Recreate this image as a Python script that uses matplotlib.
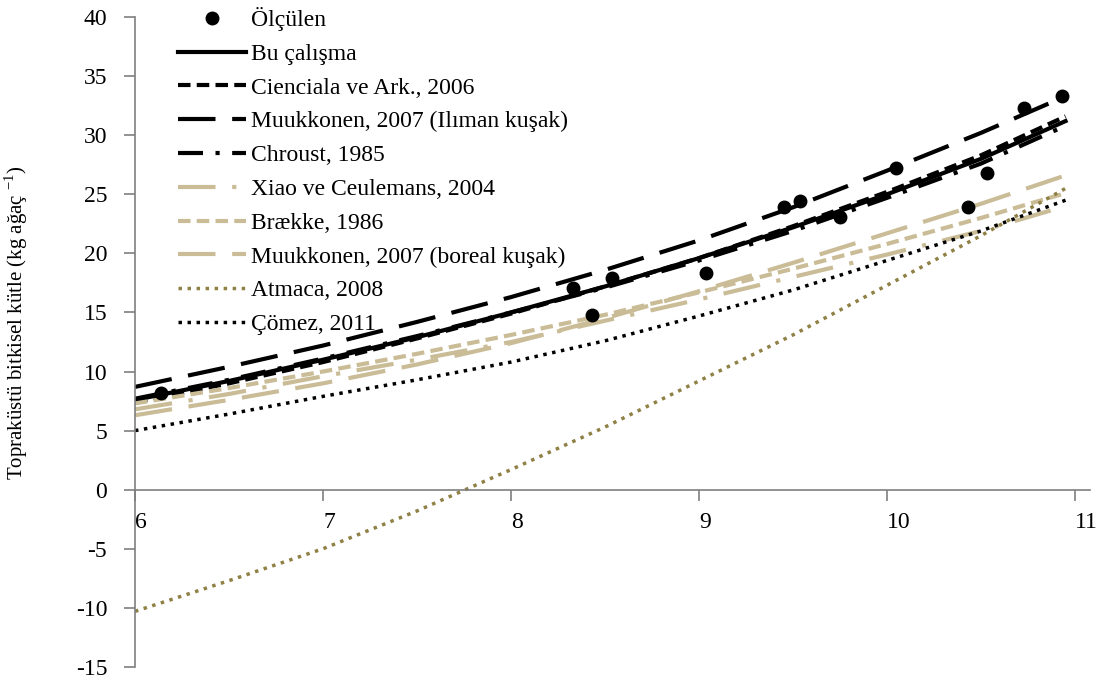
import numpy as np
import matplotlib.pyplot as plt

plt.rcParams['font.family'] = ['Liberation Serif', 'DejaVu Serif']
plt.rcParams['mathtext.fontset'] = 'custom'
plt.rcParams['mathtext.rm'] = 'Liberation Serif'
plt.rcParams['axes.unicode_minus'] = False

# x değerleri
x = [6, 6.5, 7, 7.5, 8, 8.5, 9, 9.5, 10, 10.5, 10.95]

# ölçülen noktalar
olc_x = [6.14, 8.33, 8.43, 8.54, 9.04, 9.45, 9.54, 9.75, 10.05, 10.43, 10.53, 10.73, 10.93]
olc_y = [8.2, 17.1, 14.8, 17.9, 18.3, 23.9, 24.4, 23.1, 27.2, 23.9, 26.8, 32.3, 33.3]

bu_calisma = [7.6, 9.2, 11.0, 12.9, 15.0, 17.2, 19.6, 22.2, 25.0, 28.0, 31.2]
cienciala = [7.4, 9.0, 10.8, 12.8, 14.9, 17.2, 19.6, 22.3, 25.2, 28.3, 31.6]
muuk_ilman = [8.7, 10.4, 12.2, 14.2, 16.3, 18.6, 21.1, 23.9, 27.0, 30.2, 33.3]
chroust = [7.7, 9.3, 11.1, 13.0, 15.0, 17.1, 19.4, 21.9, 24.7, 27.6, 30.8]
xiao = [6.8, 8.1, 9.6, 11.0, 12.5, 14.3, 16.1, 18.0, 19.9, 21.9, 24.0]
braekke = [7.3, 8.6, 10.0, 11.5, 13.1, 14.8, 16.7, 18.7, 20.8, 23.0, 25.1]
muuk_boreal = [6.3, 7.6, 9.0, 10.6, 12.4, 14.5, 16.8, 19.2, 21.7, 24.2, 26.6]
atmaca = [-10.3, -7.7, -5.0, -1.8, 1.7, 5.3, 9.2, 13.1, 17.3, 21.5, 25.5]
comez = [5.0, 6.4, 7.9, 9.3, 10.8, 12.6, 14.7, 16.9, 19.4, 21.9, 24.5]

siyah = 'black'
bej = '#c9bc97'
zeytin = '#8f8045'

fig = plt.figure(figsize=(11.04, 6.84), dpi=100)
ax = fig.add_axes([0.1223, 0.025, 0.865, 0.95])

ax.plot(olc_x, olc_y, 'o', color=siyah, markersize=9, label='Ölçülen', zorder=5)
ax.plot(x, bu_calisma, color=siyah, lw=3, ls='-', label='Bu çalışma')
ax.plot(x, cienciala, color=siyah, lw=3, ls=(0, (3, 1.5)), label='Cienciala ve Ark., 2006')
ax.plot(x, muuk_ilman, color=siyah, lw=3, ls=(0, (9, 4)), label='Muukkonen, 2007 (Ilıman kuşak)')
ax.plot(x, chroust, color=siyah, lw=3, ls=(0, (6, 3, 1, 3)), label='Chroust, 1985')
ax.plot(x, xiao, color=bej, lw=3, ls=(0, (9, 4, 1, 4)), label='Xiao ve Ceulemans, 2004')
ax.plot(x, braekke, color=bej, lw=3, ls=(0, (3, 1.5)), label='Brække, 1986')
ax.plot(x, muuk_boreal, color=bej, lw=3, ls=(0, (9, 4)), label='Muukkonen, 2007 (boreal kuşak)')
ax.plot(x, atmaca, color=zeytin, lw=2.5, ls=(0, (1, 1.6)), label='Atmaca, 2008')
ax.plot(x, comez, color=siyah, lw=2.5, ls=(0, (1, 1.6)), label='Çömez, 2011')

ax.set_xlim(6, 11.08)
ax.set_ylim(-15, 40)
ax.set_xticks([6, 7, 8, 9, 10, 11])
ax.set_yticks(np.arange(-15, 41, 5))

ax.spines['top'].set_visible(False)
ax.spines['right'].set_visible(False)
ax.spines['bottom'].set_position(('data', 0))
for s in ['left', 'bottom']:
    ax.spines[s].set_color('#7f7f7f')
    ax.spines[s].set_linewidth(1.2)
ax.tick_params(axis='both', direction='out', length=8, width=1.2, color='#7f7f7f', labelsize=17)
ax.tick_params(axis='y', pad=12)
ax.tick_params(axis='x', pad=8)
for lbl in ax.get_xticklabels():
    lbl.set_horizontalalignment('left')

ax.set_ylabel('Topraküstü bitkisel kütle (kg ağaç $^{-1}$)', fontsize=15)
ax.yaxis.set_label_coords(-0.11, 0.53)

ax.legend(loc='upper left', bbox_to_anchor=(0.035, 1.03), frameon=False, fontsize=17,
          handlelength=2.9, handletextpad=0.2, labelspacing=0.52, borderaxespad=0)

plt.savefig('out.png', dpi=100)
